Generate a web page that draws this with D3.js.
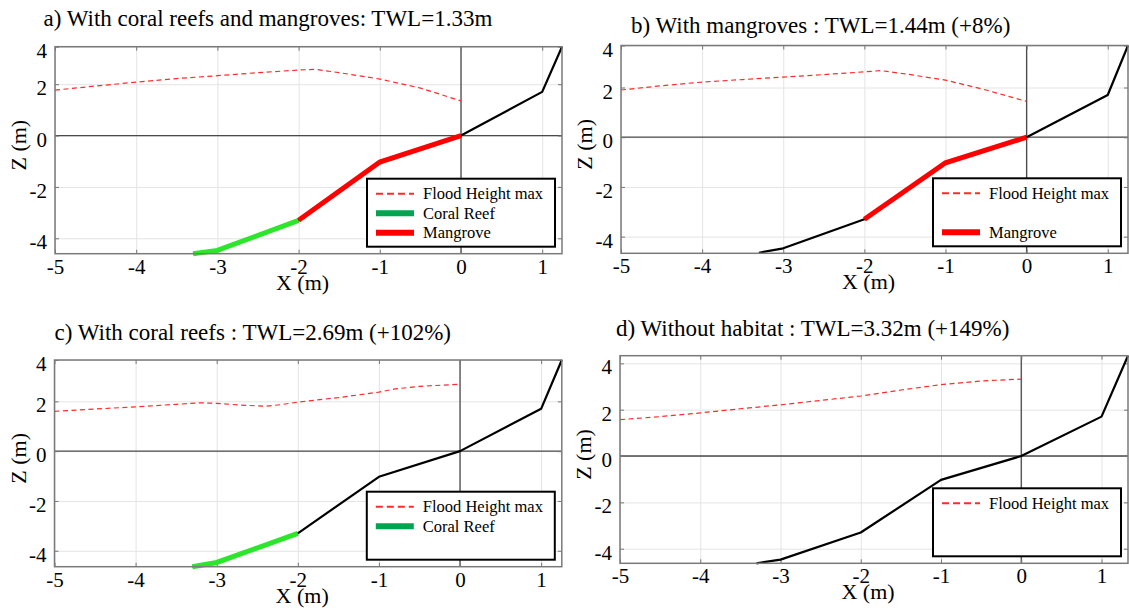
<!doctype html>
<html>
<head>
<meta charset="utf-8">
<style>
    body { margin: 0; background: #fff; }
    svg text { font-family: "Liberation Serif", "Times New Roman", serif; fill: #000; }
    .title { font-size: 23px; }
    .lab text { font-size: 21px; font-family: "Liberation Serif", "Times New Roman", serif; }
    .axis-name { font-size: 22px; }
    .legend-text { font-size: 16.5px; }
    .grid line { stroke: #e4e4e4; stroke-width: 1; }
    .ticks line { stroke: #777; stroke-width: 1; }
    .zero { stroke: #4a4a4a; stroke-width: 1.3; }
    .frame { fill: none; stroke: #7a7a7a; stroke-width: 1.5; }
    .flood { fill: none; stroke: #ff2a2a; stroke-width: 1.2; stroke-dasharray: 5,3.5; }
    .bed { fill: none; stroke: #000; stroke-width: 2.2; stroke-linejoin: round; }
    .coral { fill: none; stroke: #2be62b; stroke-width: 5; }
    .mangrove { fill: none; stroke: #ff0000; stroke-width: 5; }
    .legend-box { fill: #fff; stroke: #000; stroke-width: 2; }
    .key-flood { stroke: #ff2a2a; stroke-width: 2; stroke-dasharray: 7,4; }
    .key-coral { stroke: #00a550; stroke-width: 6; }
    .key-mangrove { stroke: #ff0000; stroke-width: 6; }
</style>
<script src="https://d3js.org/d3.v7.min.js"></script>
</head>
<body>
<svg width="1129" height="612" class="fig"></svg>
<script>
    var xTicks = [-5, -4, -3, -2, -1, 0, 1];
    var zTicks = [-4, -2, 0, 2, 4];

    // seabed profile (same in every case)
    var profileX = [-3.3, -3, -2, -1, 0, 1, 1.33];
    var profileZ = [-4.65, -4.47, -3.3, -1.03, 0, 1.7, 4.33];

    // part of the profile each habitat covers
    var coralSpan = [-3.3, -2];
    var mangroveSpan = [-2, 0];

    // max flood height along the profile
    var floodXa = [-5, -4.5, -4, -3.5, -3, -2.5, -2, -1.8, -1.5, -1, -0.5, 0];
    var floodZa = [1.77, 1.93, 2.08, 2.22, 2.33, 2.45, 2.55, 2.58, 2.45, 2.2, 1.85, 1.35];
    var floodXb = [-5, -4.5, -4, -3.5, -3, -2.5, -2, -1.8, -1.5, -1, -0.5, 0];
    var floodZb = [1.9, 2.07, 2.22, 2.32, 2.42, 2.52, 2.63, 2.68, 2.55, 2.3, 1.9, 1.44];
    var floodXc = [-5, -4.5, -4, -3.5, -3.2, -3, -2.7, -2.4, -2.2, -2, -1.5, -1, -0.8, -0.5, 0];
    var floodZc = [1.6, 1.69, 1.78, 1.88, 1.94, 1.92, 1.85, 1.8, 1.87, 1.97, 2.15, 2.37, 2.5, 2.6, 2.69];
    var floodXd = [-5, -4.5, -4, -3.5, -3, -2.5, -2, -1.5, -1, -0.5, 0];
    var floodZd = [1.57, 1.7, 1.86, 2.04, 2.21, 2.4, 2.59, 2.85, 3.08, 3.24, 3.32];

    var titles = [
        "a) With coral reefs and mangroves: TWL=1.33m",
        "b) With mangroves : TWL=1.44m (+8%)",
        "c) With coral reefs : TWL=2.69m (+102%)",
        "d) Without habitat : TWL=3.32m (+149%)"
    ];
    var habitatsIn = [["coral", "mangrove"], ["mangrove"], ["coral"], []];
    var legendRows = [
        ["flood", "coral", "mangrove"],
        ["flood", "", "mangrove"],
        ["flood", "coral", ""],
        ["flood", "", ""]
    ];
    var legendNames = { flood: "Flood Height max", coral: "Coral Reef", mangrove: "Mangrove" };

    var floodX = [floodXa, floodXb, floodXc, floodXd],
        floodZ = [floodZa, floodZb, floodZc, floodZd];

    // pixel box and axis limits of each panel
    var frames = [
        { left: 55,   right: 562,   top: 46.7,  bottom: 253.7, xMax: 1.244, zMin: -4.6,  zMax: 3.46, tx: 43.6, ty: 26 },
        { left: 621,  right: 1128,  top: 45.5,  bottom: 253.3, xMax: 1.25,  zMin: -4.67, zMax: 3.69, tx: 631,  ty: 32.7 },
        { left: 54.5, right: 561.8, top: 360,   bottom: 566.7, xMax: 1.255, zMin: -4.64, zMax: 3.66, tx: 54.5, ty: 340 },
        { left: 620,  right: 1128,  top: 355.7, bottom: 563.3, xMax: 1.33,  zMin: -4.63, zMax: 4.33, tx: 616,  ty: 336 }
    ];

    var svg = d3.select(".fig");
    var legendW = 188, legendH = 68;

    function drawPanel(i) {
        var f = frames[i],
            w = f.right - f.left,
            h = f.bottom - f.top;

        var x = d3.scaleLinear().domain([-5, f.xMax]).range([0, w]).clamp(true),
            y = d3.scaleLinear().domain([f.zMin, f.zMax]).range([h, 0]).clamp(true);

        svg.append("text").attr("class", "title").attr("x", f.tx).attr("y", f.ty).text(titles[i]);

        var g = svg.append("g").attr("transform", "translate(" + f.left + "," + f.top + ")");

        // grid
        g.append("g").attr("class", "grid").attr("transform", "translate(0," + h + ")")
         .call(d3.axisBottom(x).tickValues(xTicks).tickSize(-h).tickFormat(""));
        g.append("g").attr("class", "grid")
         .call(d3.axisLeft(y).tickValues(zTicks).tickSize(-w).tickFormat(""));
        g.selectAll(".grid .domain").remove();

        g.append("line").attr("class", "zero")
         .attr("x1", 0).attr("x2", w).attr("y1", y(0)).attr("y2", y(0));
        g.append("line").attr("class", "zero")
         .attr("x1", x(0)).attr("x2", x(0)).attr("y1", 0).attr("y2", h);

        // small inward ticks on all sides
        g.append("g").attr("class", "ticks").attr("transform", "translate(0," + h + ")")
         .call(d3.axisBottom(x).tickValues(xTicks).tickSize(-4).tickFormat(""));
        g.append("g").attr("class", "ticks")
         .call(d3.axisTop(x).tickValues(xTicks).tickSize(-4).tickFormat(""));
        g.append("g").attr("class", "ticks")
         .call(d3.axisLeft(y).tickValues(zTicks).tickSize(-4).tickFormat(""));
        g.append("g").attr("class", "ticks").attr("transform", "translate(" + w + ",0)")
         .call(d3.axisRight(y).tickValues(zTicks).tickSize(-4).tickFormat(""));
        g.selectAll(".ticks .domain").remove();

        var line = d3.line()
            .x(function(d) { return x(d[0]); })
            .y(function(d) { return y(d[1]); });

        g.append("path").datum(d3.zip(floodX[i], floodZ[i])).attr("class", "flood").attr("d", line);

        var profile = d3.zip(profileX, profileZ);
        g.append("path").datum(profile).attr("class", "bed").attr("d", line);

        habitatsIn[i].forEach(function(k) {
            var span = k === "coral" ? coralSpan : mangroveSpan;
            var pts = profile.filter(function(p) { return p[0] >= span[0] && p[0] <= span[1]; });
            g.append("path").datum(pts).attr("class", k).attr("d", line);
        });

        g.append("rect").attr("class", "frame").attr("width", w).attr("height", h);

        // tick labels
        g.append("g").attr("class", "lab").attr("transform", "translate(0," + h + ")")
         .call(d3.axisBottom(x).tickValues(xTicks).tickSize(0).tickPadding(5).tickFormat(String));
        var yl = g.append("g").attr("class", "lab")
            .call(d3.axisLeft(y).tickValues(zTicks).tickSize(0).tickPadding(8).tickFormat(String));
        yl.selectAll("text").attr("dy", "0.5em");
        g.selectAll(".lab .domain").remove();

        g.append("text").attr("class", "axis-name")
         .attr("text-anchor", "middle")
         .attr("x", w / 2 - 6).attr("y", h + 36)
         .text("X (m)");
        g.append("text").attr("class", "axis-name")
         .attr("text-anchor", "middle")
         .attr("transform", "translate(-29," + (h / 2 - 5) + ") rotate(-90)")
         .text("Z (m)");

        // legend
        var lg = svg.append("g")
            .attr("transform", "translate(" + (f.right - 7 - legendW) + "," + (f.bottom - 7 - legendH) + ")");
        lg.append("rect").attr("class", "legend-box").attr("width", legendW).attr("height", legendH);
        legendRows[i].forEach(function(k, r) {
            if (!k) return;
            var yy = 15 + r * 19.5;
            lg.append("line").attr("class", "key-" + k)
              .attr("x1", 9).attr("x2", 47).attr("y1", yy).attr("y2", yy);
            lg.append("text").attr("class", "legend-text")
              .attr("x", 56).attr("y", yy).attr("dy", "0.35em")
              .text(legendNames[k]);
        });
    }

    for (var i = 0; i < 4; i++) drawPanel(i);
</script>
</body>
</html>
